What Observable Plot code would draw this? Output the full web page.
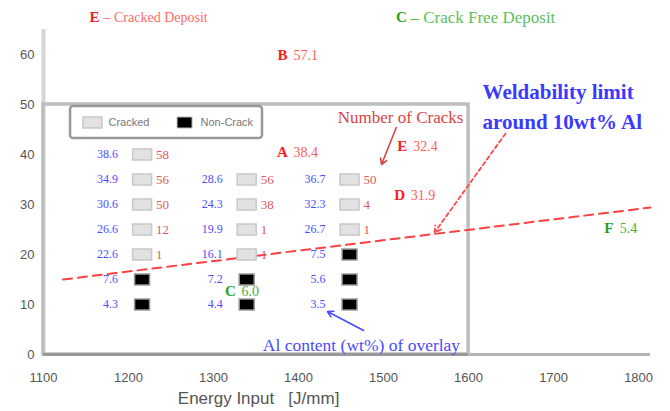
<!DOCTYPE html>
<html><head><meta charset="utf-8">
<script src="https://cdn.jsdelivr.net/npm/d3@7"></script>
<script src="https://cdn.jsdelivr.net/npm/@observablehq/plot@0.6"></script>
<style>body{margin:0;background:#fff}</style>
</head><body><div id="chart"></div>
<script>
// ---- axes ----
const energyTicks = [1100, 1200, 1300, 1400, 1500, 1600, 1700, 1800];
const levelTicks = [0, 10, 20, 30, 40, 50, 60];
const xTitle = "Energy Input   [J/mm]";

// ---- test grid (squares) ----
const gridEnergy = [1216,1216,1216,1216,1216,1216,1216, 1339,1339,1339,1339,1339,1339, 1460,1460,1460,1460,1460,1460];
const gridLevel  = [40,35,30,25,20,15,10, 35,30,25,20,15,10, 35,30,25,20,15,10];
const gridCracked = [1,1,1,1,1,0,0, 1,1,1,1,0,0, 1,1,1,0,0,0];
const gridAl = ["38.6","34.9","30.6","26.6","22.6","7.6","4.3", "28.6","24.3","19.9","16.1","7.2","4.4", "36.7","32.3","26.7","7.5","5.6","3.5"];
const gridCracks = ["58","56","50","12","1","","", "56","38","1","1","","", "50","4","1","","",""];

// ---- lettered deposits ----
const depositName = ["A","B","C","D","E","F"];
const depositEnergy = [1381, 1381, 1320, 1519, 1522, 1765];
const depositLevel = [40.4, 59.8, 12.6, 31.8, 41.6, 25.2];
const depositAl = ["38.4","57.1","6.0","31.9","32.4","5.4"];
const depositCracked = [1,1,0,1,1,0];

// ---- weldability limit line ----
const limitEnergy = [1123, 1814];
const limitLevel = [15.0, 29.4];

// ---- frame box (limit region) ----
const boxEnergy = [1100, 1600];
const boxLevel = [0, 50];

// ---- annotations ----
const headerSymbols = ["E", "C"];
const headerTexts = ["\u2013 Cracked Deposit", "\u2013 Crack Free Deposit"];
const headerEnergy = [1160, 1521];
const headerLevel = 67.4;
const legendLabels = ["Cracked", "Non-Crack"];
const legendEnergy = [1157.6, 1265.9];
const legendLevel = 46.4;
const legendBoxEnergy = [1131.8, 1357.6];
const legendBoxLevel = [43.2, 49.6];
const crackNote = "Number of Cracks";
const crackNotePos = [1520, 47.4];
const limitNote = ["Weldability limit", "around 10wt% Al"];
const limitNoteEnergy = 1616.5;
const limitNoteLevel = [52.4, 46.4];
const alNote = "Al content (wt%) of overlay";
const alNotePos = [1474, 1.8];
const arrowFrom = [[1515, 45.4], [1643.5, 44.2], [1476.5, 4.8]];
const arrowTo = [[1497.6, 38.0], [1560, 24.4], [1434, 8.6]];
const xTitlePos = [1353, -8.8];

const grid = gridEnergy.map((e, i) => ({e, l: gridLevel[i], c: gridCracked[i], al: gridAl[i], n: gridCracks[i]}));
const deposits = depositName.map((n, i) => ({n, e: depositEnergy[i], l: depositLevel[i], al: depositAl[i], c: depositCracked[i]}));
const limitLine = limitEnergy.map((e, i) => ({e, l: limitLevel[i]}));

const wideRect = {draw(ctx) { ctx.rect(-9.5, -5.5, 19, 11); }};
const blackRect = {draw(ctx) { ctx.rect(-7.5, -5.5, 15, 11); }};
const serif = "'Liberation Serif', 'Times New Roman', serif";
const sans = "'Liberation Sans', Arial, sans-serif";
const RED = "#ff1a1a", GREEN = "#1fa31f";

const chart = Plot.plot({
  width: 670, height: 411,
  marginLeft: 43, marginRight: 20, marginTop: 29, marginBottom: 57,
  style: {fontFamily: sans, background: "#fff", overflow: "visible"},
  x: {domain: [1100, 1814]},
  y: {domain: [0, 65]},
  marks: [
    Plot.axisX({ticks: energyTicks, tickFormat: d => String(d), tickSize: 0, tickPadding: 18, fill: "#555", fontSize: 13, label: null}),
    Plot.axisY({ticks: levelTicks, tickFormat: d => String(d), tickSize: 0, tickPadding: 9, fill: "#555", fontSize: 13, label: null}),
    Plot.ruleX([boxEnergy[0]], {y1: 0, y2: 65, stroke: "#d6d6d6", strokeWidth: 4}),
    Plot.ruleY([0], {x1: boxEnergy[1], x2: 1814, stroke: "#b4b4b4", strokeWidth: 3}),
    Plot.rect([0], {x1: () => boxEnergy[0], x2: () => boxEnergy[1], y1: () => boxLevel[0], y2: () => boxLevel[1], fill: "none", stroke: "#bdbdbd", strokeWidth: 3.5}),
    Plot.ruleY([0], {x1: boxEnergy[0], x2: boxEnergy[1], stroke: "#999", strokeWidth: 3}),
    // legend box
    Plot.rect([0], {x1: () => legendBoxEnergy[0], x2: () => legendBoxEnergy[1], y1: () => legendBoxLevel[0], y2: () => legendBoxLevel[1], fill: "#fff", stroke: "#999", strokeWidth: 2.5, rx: 3}),
    Plot.dot([0], {x: () => legendEnergy[0], y: () => legendLevel, symbol: wideRect, fill: "#e2e2e2", stroke: "#c8c8c8", strokeWidth: 1.5}),
    Plot.dot([0], {x: () => legendEnergy[1], y: () => legendLevel, symbol: blackRect, fill: "#000", stroke: "#bbb", strokeWidth: 1}),
    Plot.text(legendLabels, {x: (d, i) => legendEnergy[i], y: () => legendLevel, text: d => d, dx: 16, textAnchor: "start", fill: "#777", fontSize: 11, fontFamily: sans}),
    // limit line
    Plot.line(limitLine, {x: "e", y: "l", stroke: "#ff4040", strokeWidth: 2, strokeDasharray: "9,6"}),
    // grid squares
    Plot.dot(grid.filter(d => d.c), {x: "e", y: "l", symbol: wideRect, fill: "#e2e2e2", stroke: "#c8c8c8", strokeWidth: 1.5}),
    Plot.dot(grid.filter(d => !d.c), {x: "e", y: "l", symbol: blackRect, fill: "#000", stroke: "#999", strokeWidth: 1.5}),
    Plot.text(grid, {x: "e", y: "l", text: "al", dx: -24, textAnchor: "end", fill: "#4d4dff", fontSize: 12, fontFamily: serif}),
    Plot.text(grid, {x: "e", y: "l", text: "n", dx: 14, textAnchor: "start", fill: "#e05a5a", fontSize: 13, fontFamily: serif}),
    // deposits
    Plot.text(deposits.filter(d => d.c), {x: "e", y: "l", text: "n", fill: RED, fontWeight: "bold", fontSize: 15, fontFamily: serif}),
    Plot.text(deposits.filter(d => !d.c), {x: "e", y: "l", text: "n", fill: GREEN, fontWeight: "bold", fontSize: 15, fontFamily: serif}),
    Plot.text(deposits.filter(d => d.c), {x: "e", y: "l", text: "al", dx: 11, textAnchor: "start", fill: "#ff5c5c", fontSize: 14, fontFamily: serif}),
    Plot.text(deposits.filter(d => !d.c), {x: "e", y: "l", text: "al", dx: 11, textAnchor: "start", fill: "#44b044", fontSize: 14, fontFamily: serif}),
    // header
    Plot.text([headerSymbols[0]], {x: () => headerEnergy[0], y: () => headerLevel, text: d => d, fill: RED, fontWeight: "bold", fontSize: 15, fontFamily: serif}),
    Plot.text([headerSymbols[1]], {x: () => headerEnergy[1], y: () => headerLevel, text: d => d, fill: GREEN, fontWeight: "bold", fontSize: 15, fontFamily: serif}),
    Plot.text([headerTexts[0]], {x: () => headerEnergy[0], y: () => headerLevel, text: d => d, dx: 9, textAnchor: "start", fill: "#ff6b6b", fontSize: 14, fontFamily: serif}),
    Plot.text([headerTexts[1]], {x: () => headerEnergy[1], y: () => headerLevel, text: d => d, dx: 9, textAnchor: "start", fill: "#5cbf5c", fontSize: 17, fontFamily: serif}),
    // notes
    Plot.text([crackNote], {x: () => crackNotePos[0], y: () => crackNotePos[1], text: d => d, fill: "#d64545", fontSize: 17, fontFamily: serif}),
    Plot.text(limitNote, {x: () => limitNoteEnergy, y: (d, i) => limitNoteLevel[i], text: d => d, textAnchor: "start", fill: "#3a3aff", fontWeight: "bold", fontSize: 21, fontFamily: serif}),
    Plot.text([alNote], {x: () => alNotePos[0], y: () => alNotePos[1], text: d => d, fill: "#4a4aff", fontSize: 17.5, fontFamily: serif}),
    Plot.arrow([0], {x1: () => arrowFrom[0][0], y1: () => arrowFrom[0][1], x2: () => arrowTo[0][0], y2: () => arrowTo[0][1], stroke: "#d64545", strokeWidth: 1.6, headLength: 6}),
    Plot.arrow([0], {x1: () => arrowFrom[1][0], y1: () => arrowFrom[1][1], x2: () => arrowTo[1][0], y2: () => arrowTo[1][1], stroke: "#ff4a4a", strokeWidth: 1.8, headLength: 6, strokeDasharray: "4,3"}),
    Plot.arrow([0], {x1: () => arrowFrom[2][0], y1: () => arrowFrom[2][1], x2: () => arrowTo[2][0], y2: () => arrowTo[2][1], stroke: "#4a4aff", strokeWidth: 1.6, headLength: 6}),
    // x title
    Plot.text([xTitle], {x: () => xTitlePos[0], y: () => xTitlePos[1], text: d => d, fill: "#555", fontSize: 17, fontFamily: sans})
  ]
});
document.getElementById("chart").append(chart);
</script></body></html>
